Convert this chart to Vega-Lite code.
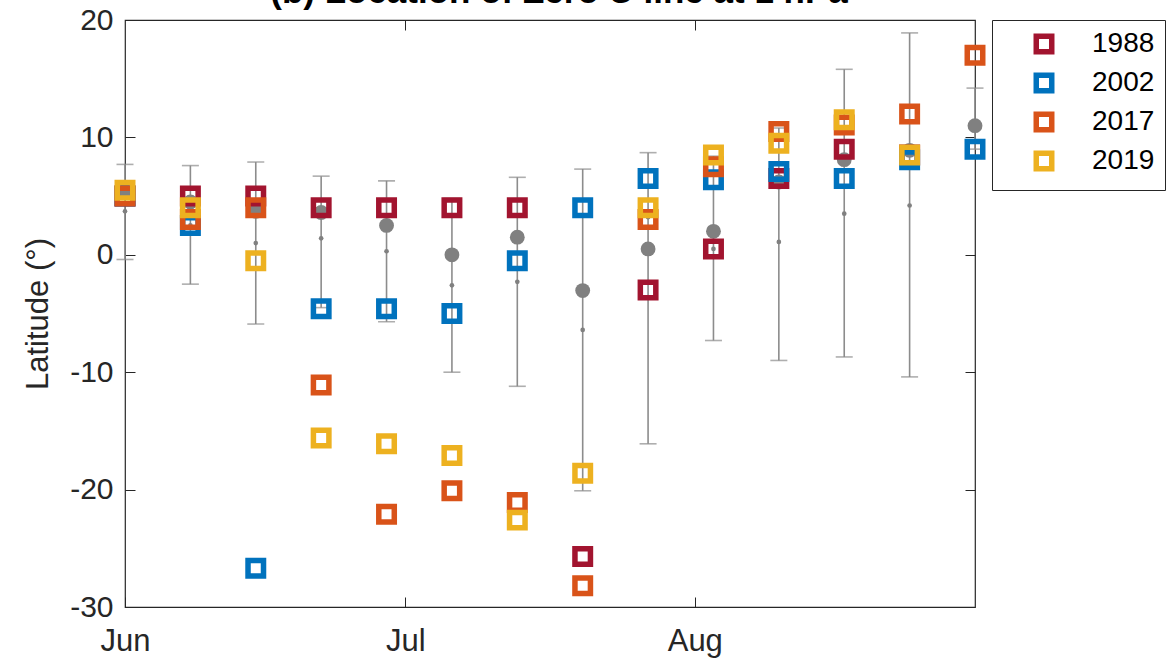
{
  "$schema": "https://vega.github.io/schema/vega-lite/v6.json",
  "width": 850,
  "height": 587,
  "autosize": "none",
  "padding": {"left": 125, "top": 20, "right": 197, "bottom": 53},
  "background": "white",
  "title": {
    "text": "(b) Location of Zero U line at 1 hPa",
    "fontSize": 35,
    "fontWeight": "bold",
    "font": "Liberation Sans",
    "color": "#000000",
    "anchor": "middle",
    "frame": "group",
    "baseline": "alphabetic",
    "offset": 0,
    "dy": 33,
    "dx": 9
  },
  "datasets": {
    "stats": [
      {"date": "2000-06-01", "lo": -0.4, "hi": 7.7, "mean": 5.4, "med": 3.7},
      {"date": "2000-06-08", "lo": -2.5, "hi": 7.6, "mean": 4.5, "med": 2.5},
      {"date": "2000-06-15", "lo": -5.9, "hi": 7.9, "mean": 3.7, "med": 1.0},
      {"date": "2000-06-22", "lo": -4.5, "hi": 6.7, "mean": 3.6, "med": 1.4},
      {"date": "2000-06-29", "lo": -5.7, "hi": 6.3, "mean": 2.5, "med": 0.3},
      {"date": "2000-07-06", "lo": -10.0, "hi": 4.8, "mean": 0.0, "med": -2.6},
      {"date": "2000-07-13", "lo": -11.2, "hi": 6.6, "mean": 1.5, "med": -2.3},
      {"date": "2000-07-20", "lo": -20.1, "hi": 7.3, "mean": -3.05, "med": -6.4},
      {"date": "2000-07-27", "lo": -16.1, "hi": 8.7, "mean": 0.5, "med": 3.2},
      {"date": "2000-08-03", "lo": -7.3, "hi": 8.4, "mean": 2.0, "med": 0.5},
      {"date": "2000-08-10", "lo": -9.0, "hi": 10.8, "mean": 6.2, "med": 1.1},
      {"date": "2000-08-17", "lo": -8.7, "hi": 15.8, "mean": 8.1, "med": 3.5},
      {"date": "2000-08-24", "lo": -10.4, "hi": 18.9, "mean": 8.9, "med": 4.2},
      {"date": "2000-08-31", "lo": 9.0, "hi": 14.2, "mean": 11.0, "med": null}
    ],
    "years": [
      {"date": "2000-06-01", "year": "1988", "lat": 5.0},
      {"date": "2000-06-08", "year": "1988", "lat": 5.0},
      {"date": "2000-06-15", "year": "1988", "lat": 5.0},
      {"date": "2000-06-22", "year": "1988", "lat": 4.0},
      {"date": "2000-06-29", "year": "1988", "lat": 4.0},
      {"date": "2000-07-06", "year": "1988", "lat": 4.0},
      {"date": "2000-07-13", "year": "1988", "lat": 4.0},
      {"date": "2000-07-20", "year": "1988", "lat": -25.7},
      {"date": "2000-07-27", "year": "1988", "lat": -3.0},
      {"date": "2000-08-03", "year": "1988", "lat": 0.5},
      {"date": "2000-08-10", "year": "1988", "lat": 6.5},
      {"date": "2000-08-17", "year": "1988", "lat": 9.0},
      {"date": "2000-08-24", "year": "1988", "lat": 8.5},
      {"date": "2000-06-01", "year": "2002", "lat": 5.0},
      {"date": "2000-06-08", "year": "2002", "lat": 2.5},
      {"date": "2000-06-15", "year": "2002", "lat": -26.7},
      {"date": "2000-06-22", "year": "2002", "lat": -4.6},
      {"date": "2000-06-29", "year": "2002", "lat": -4.6},
      {"date": "2000-07-06", "year": "2002", "lat": -5.0},
      {"date": "2000-07-13", "year": "2002", "lat": -0.5},
      {"date": "2000-07-20", "year": "2002", "lat": 4.0},
      {"date": "2000-07-27", "year": "2002", "lat": 6.5},
      {"date": "2000-08-03", "year": "2002", "lat": 6.4},
      {"date": "2000-08-10", "year": "2002", "lat": 7.1},
      {"date": "2000-08-17", "year": "2002", "lat": 6.5},
      {"date": "2000-08-24", "year": "2002", "lat": 8.1},
      {"date": "2000-08-31", "year": "2002", "lat": 9.0},
      {"date": "2000-06-01", "year": "2017", "lat": 5.0},
      {"date": "2000-06-08", "year": "2017", "lat": 3.0},
      {"date": "2000-06-15", "year": "2017", "lat": 4.0},
      {"date": "2000-06-22", "year": "2017", "lat": -11.1},
      {"date": "2000-06-29", "year": "2017", "lat": -22.1},
      {"date": "2000-07-06", "year": "2017", "lat": -20.1},
      {"date": "2000-07-13", "year": "2017", "lat": -21.1},
      {"date": "2000-07-20", "year": "2017", "lat": -28.2},
      {"date": "2000-07-27", "year": "2017", "lat": 3.0},
      {"date": "2000-08-03", "year": "2017", "lat": 7.5},
      {"date": "2000-08-10", "year": "2017", "lat": 10.5},
      {"date": "2000-08-17", "year": "2017", "lat": 11.05},
      {"date": "2000-08-24", "year": "2017", "lat": 12.0},
      {"date": "2000-08-31", "year": "2017", "lat": 17.0},
      {"date": "2000-06-01", "year": "2019", "lat": 5.5},
      {"date": "2000-06-08", "year": "2019", "lat": 4.0},
      {"date": "2000-06-15", "year": "2019", "lat": -0.5},
      {"date": "2000-06-22", "year": "2019", "lat": -15.6},
      {"date": "2000-06-29", "year": "2019", "lat": -16.1},
      {"date": "2000-07-06", "year": "2019", "lat": -17.1},
      {"date": "2000-07-13", "year": "2019", "lat": -22.6},
      {"date": "2000-07-20", "year": "2019", "lat": -18.6},
      {"date": "2000-07-27", "year": "2019", "lat": 4.0},
      {"date": "2000-08-03", "year": "2019", "lat": 8.5},
      {"date": "2000-08-10", "year": "2019", "lat": 9.5},
      {"date": "2000-08-17", "year": "2019", "lat": 11.5},
      {"date": "2000-08-24", "year": "2019", "lat": 8.5}
    ]
  },
  "layer": [
    {
      "data": {"name": "stats"},
      "mark": {"type": "rule", "color": "#8c8c8c", "strokeWidth": 1.6},
      "encoding": {
        "x": {
          "field": "date",
          "type": "temporal",
          "scale": {"type": "utc", "domain": ["2000-06-01", "2000-08-31"]},
          "axis": {
            "title": null,
            "values": [
              {"year": 2000, "month": 6, "date": 1, "utc": true},
              {"year": 2000, "month": 7, "date": 1, "utc": true},
              {"year": 2000, "month": 8, "date": 1, "utc": true}
            ],
            "format": "%b",
            "grid": false,
            "domain": false,
            "tickSize": -10,
            "tickColor": "#262626",
            "labelFontSize": 31,
            "labelPadding": 29,
            "labelColor": "#262626",
            "labelFont": "Liberation Sans",
            "labelFlush": false
          }
        },
        "y": {
          "field": "lo",
          "type": "quantitative",
          "scale": {"domain": [-30, 20], "nice": false, "zero": false},
          "axis": {
            "title": "Latitude (°)",
            "titleFontSize": 31,
            "titleFontWeight": "normal",
            "titleFont": "Liberation Sans",
            "titleColor": "#262626",
            "titlePadding": 15,
            "values": [-30, -20, -10, 0, 10, 20],
            "labelExpr": "'' + datum.value",
            "grid": false,
            "domain": false,
            "tickSize": -10,
            "tickColor": "#262626",
            "labelFontSize": 30,
            "labelPadding": 22,
            "labelColor": "#262626",
            "labelFont": "Liberation Sans"
          }
        },
        "y2": {"field": "hi"}
      }
    },
    {
      "data": {"name": "stats"},
      "mark": {"type": "tick", "orient": "horizontal", "size": 17, "thickness": 1.6, "color": "#8c8c8c"},
      "encoding": {
        "x": {"field": "date", "type": "temporal", "axis": null},
        "y": {"field": "hi", "type": "quantitative", "axis": null}
      }
    },
    {
      "data": {"name": "stats"},
      "mark": {"type": "tick", "orient": "horizontal", "size": 17, "thickness": 1.6, "color": "#8c8c8c"},
      "encoding": {
        "x": {"field": "date", "type": "temporal", "axis": null},
        "y": {"field": "lo", "type": "quantitative", "axis": null}
      }
    },
    {
      "data": {"name": "stats"},
      "mark": {"type": "point", "shape": "circle", "filled": true, "size": 220, "color": "#808080", "opacity": 1},
      "encoding": {
        "x": {"field": "date", "type": "temporal", "axis": null},
        "y": {"field": "mean", "type": "quantitative", "axis": null}
      }
    },
    {
      "data": {"name": "stats"},
      "mark": {"type": "point", "shape": "circle", "filled": true, "size": 22, "color": "#808080", "opacity": 1},
      "encoding": {
        "x": {
          "field": "date",
          "type": "temporal",
          "axis": {
            "orient": "top",
            "title": null,
            "labels": false,
            "values": [
              {"year": 2000, "month": 7, "date": 1, "utc": true},
              {"year": 2000, "month": 8, "date": 1, "utc": true}
            ],
            "grid": false,
            "domain": false,
            "tickSize": -10,
            "tickColor": "#262626"
          }
        },
        "y": {
          "field": "med",
          "type": "quantitative",
          "axis": {
            "orient": "right",
            "title": null,
            "labels": false,
            "values": [-20, -10, 0, 10],
            "grid": false,
            "domain": false,
            "tickSize": -10,
            "tickColor": "#262626"
          }
        }
      }
    },
    {
      "data": {"name": "years"},
      "mark": {"type": "point", "shape": "square", "filled": false, "size": 240, "strokeWidth": 5.5, "opacity": 1},
      "encoding": {
        "x": {"field": "date", "type": "temporal", "axis": null},
        "y": {"field": "lat", "type": "quantitative", "axis": null},
        "color": {
          "field": "year",
          "type": "nominal",
          "scale": {
            "domain": ["1988", "2002", "2017", "2019"],
            "range": ["#A2142F", "#0072BD", "#D95319", "#EDB120"]
          },
          "legend": {
            "title": null,
            "orient": "none",
            "legendX": 867,
            "legendY": 0,
            "padding": 10,
            "strokeColor": "#262626",
            "fillColor": "white",
            "symbolType": "square",
            "symbolSize": 240,
            "symbolStrokeWidth": 5.5,
            "symbolOffset": 28,
            "labelOffset": 34,
            "labelFontSize": 28,
            "labelFont": "Liberation Sans",
            "labelColor": "#000000",
            "rowPadding": 1,
            "labelLimit": 200
          }
        }
      }
    }
  ],
  "resolve": {"axis": {"x": "independent", "y": "independent"}},
  "config": {
    "view": {"stroke": "#262626", "strokeWidth": 1.2},
    "font": "Liberation Sans"
  }
}
